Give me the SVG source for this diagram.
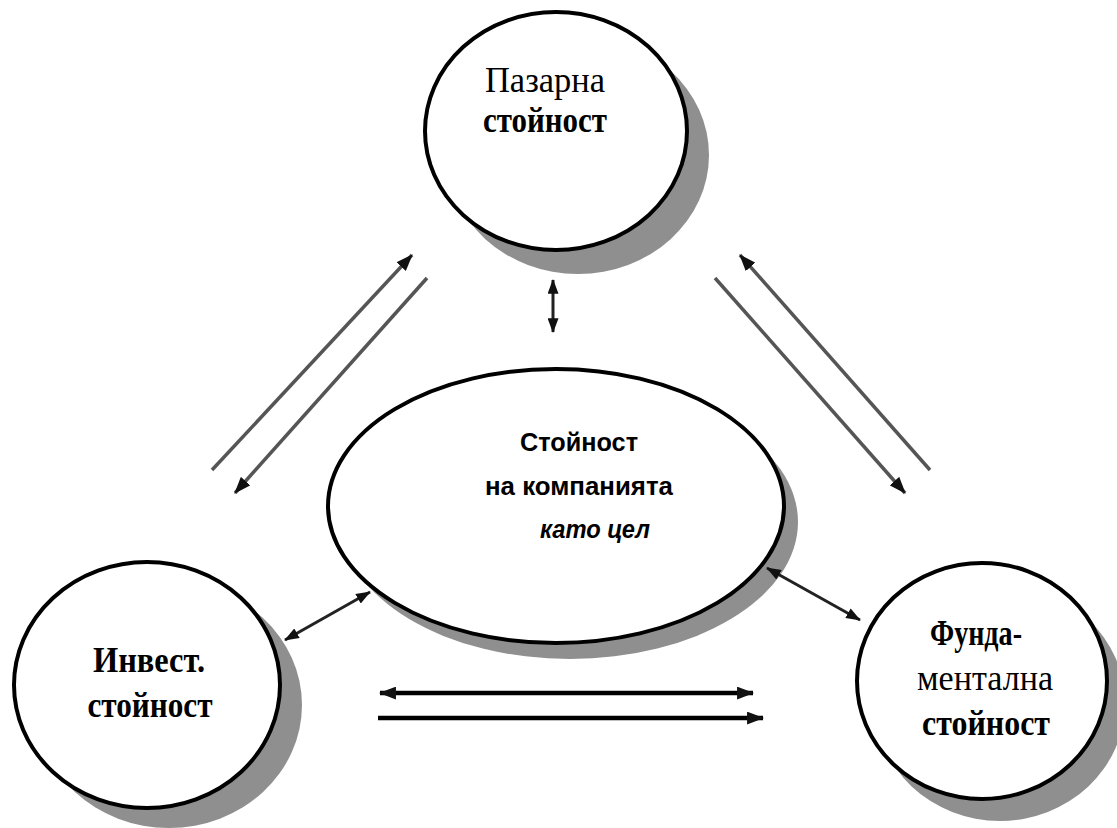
<svg xmlns="http://www.w3.org/2000/svg" width="1117" height="828" viewBox="0 0 1117 828">
<style>
.bg{fill:#ffffff}
.shadow{fill:#8f8f8f}
.node{fill:#ffffff;stroke:#000000;stroke-width:4}
.serif{font-family:"Liberation Serif","Times New Roman",serif;font-size:36px;fill:#000}
.sans{font-family:"Liberation Sans",Arial,sans-serif;font-size:26px;font-weight:bold;fill:#000}
.b{font-weight:bold}
.gray{stroke:#555555;stroke-width:3.5;fill:none}
.dark{stroke:#222222;stroke-width:3;fill:none}
.black{stroke:#000000;stroke-width:4.5;fill:none}
</style>
<defs>
<marker id="ah" viewBox="0 0 16 12" refX="15" refY="6" markerWidth="17" markerHeight="13" markerUnits="userSpaceOnUse" orient="auto-start-reverse">
<path d="M0,0 L16,6 L0,12 z" fill="#111"/>
</marker>
<marker id="ahs" viewBox="0 0 16 12" refX="15" refY="6" markerWidth="15" markerHeight="11" markerUnits="userSpaceOnUse" orient="auto-start-reverse">
<path d="M0,0 L16,6 L0,12 z" fill="#111"/>
</marker>
</defs>
<rect class="bg" x="0" y="0" width="1117" height="828"/>

<g id="market">
<ellipse class="shadow" cx="578" cy="155" rx="131" ry="119"/>
<ellipse class="node" cx="556" cy="131" rx="131" ry="119"/>
<text class="serif" x="545" y="92" text-anchor="middle" textLength="120" lengthAdjust="spacingAndGlyphs">Пазарна</text>
<text class="serif b" x="545" y="132" text-anchor="middle" textLength="124" lengthAdjust="spacingAndGlyphs">стойност</text>
</g>

<g id="company">
<ellipse class="shadow" cx="570" cy="522" rx="228" ry="137"/>
<ellipse class="node" cx="556" cy="506" rx="228" ry="137"/>
<text class="sans" x="579" y="451" text-anchor="middle" textLength="118" lengthAdjust="spacingAndGlyphs">Стойност</text>
<text class="sans" x="579" y="495" text-anchor="middle" textLength="188" lengthAdjust="spacingAndGlyphs">на компанията</text>
<text class="sans" x="595" y="538" text-anchor="middle" font-style="italic" textLength="110" lengthAdjust="spacingAndGlyphs">като цел</text>
</g>

<g id="investment">
<ellipse class="shadow" cx="169" cy="705" rx="133" ry="123"/>
<ellipse class="node" cx="147" cy="685" rx="133" ry="123"/>
<text class="serif b" x="149" y="672" text-anchor="middle" textLength="112" lengthAdjust="spacingAndGlyphs">Инвест.</text>
<text class="serif b" x="150" y="717" text-anchor="middle" textLength="125" lengthAdjust="spacingAndGlyphs">стойност</text>
</g>

<g id="fundamental">
<ellipse class="shadow" cx="1000" cy="703" rx="125" ry="118"/>
<ellipse class="node" cx="982" cy="681" rx="125" ry="118"/>
<text class="serif b" x="976" y="645" text-anchor="middle" textLength="92" lengthAdjust="spacingAndGlyphs">Фунда-</text>
<text class="serif" x="985" y="690" text-anchor="middle" textLength="136" lengthAdjust="spacingAndGlyphs">ментална</text>
<text class="serif b" x="986" y="735" text-anchor="middle" textLength="128" lengthAdjust="spacingAndGlyphs">стойност</text>
</g>

<g id="connectors">
<line class="gray" x1="212" y1="470" x2="412" y2="255" marker-end="url(#ah)"/>
<line class="gray" x1="427" y1="278" x2="235" y2="493" marker-end="url(#ah)"/>
<line class="gray" x1="715" y1="278" x2="905" y2="493" marker-end="url(#ah)"/>
<line class="gray" x1="930" y1="470" x2="740" y2="255" marker-end="url(#ah)"/>
<line class="dark" x1="553" y1="280" x2="553" y2="332" marker-start="url(#ahs)" marker-end="url(#ahs)"/>
<line class="dark" x1="370" y1="592" x2="285" y2="640" marker-start="url(#ahs)" marker-end="url(#ahs)"/>
<line class="dark" x1="767" y1="568" x2="860" y2="620" marker-start="url(#ahs)" marker-end="url(#ahs)"/>
<line class="black" x1="380" y1="693" x2="753" y2="693" marker-start="url(#ah)" marker-end="url(#ah)"/>
<line class="black" x1="378" y1="718" x2="763" y2="718" marker-end="url(#ah)"/>
</g>
</svg>
